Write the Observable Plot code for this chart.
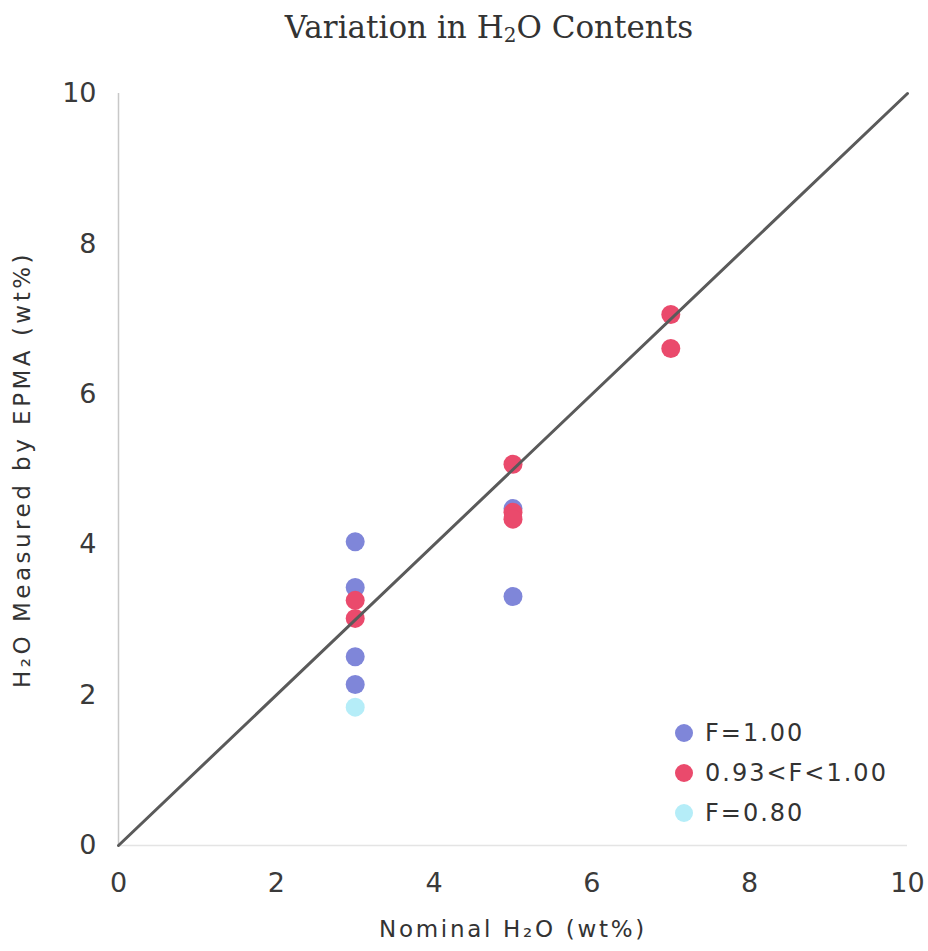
<!DOCTYPE html>
<html>
<head>
<meta charset="utf-8">
<script src="https://cdn.jsdelivr.net/npm/d3@7"></script>
<script src="https://cdn.jsdelivr.net/npm/@observablehq/plot@0.6"></script>
<style>
  html, body { margin: 0; padding: 0; background: #fff; }
  #wrap { position: relative; width: 928px; height: 951px; }
  #title {
    height: 58px; line-height: 54px; text-align: center;
    font-family: "DejaVu Serif", serif; font-size: 31px; color: #333;
    padding-left: 50px; box-sizing: border-box;
  }
  #title sub { font-size: 20px; vertical-align: -4px; line-height: 0; }
  #legend {
    position: absolute; left: 675px; top: 713px;
    font-family: "DejaVu Sans", sans-serif; font-size: 24px; color: #333;
    letter-spacing: 2px;
  }
  #legend .item { display: flex; align-items: center; height: 40px; }
  #legend .sw { width: 18px; height: 18px; border-radius: 50%; margin-right: 12px; }
</style>
</head>
<body>
<div id="wrap">
  <div id="title">Variation in H<sub>2</sub>O Contents</div>
  <div id="chart"></div>
  <div id="legend"></div>
</div>
<script>
// Sample groups (F value ranges) and their colours
const groups = ["F=1.00", "0.93<F<1.00", "F=0.80"];
const groupColors = ["#7f86d9", "#ea4a6c", "#b5edf8"];

// Nominal vs measured H2O (wt%) for each group
const nominalF100 = [3, 3, 3, 3, 5, 5];
const measuredF100 = [4.04, 3.43, 2.51, 2.14, 4.48, 3.31];

const nominalF093 = [3, 3, 5, 5, 5, 7, 7];
const measuredF093 = [3.26, 3.02, 5.07, 4.43, 4.34, 7.06, 6.61];

const nominalF080 = [3];
const measuredF080 = [1.84];

const axisTicks = [0, 2, 4, 6, 8, 10];
const oneToOne = [0, 10];

const xLabel = "Nominal H₂O (wt%)";
const yLabel = "H₂O Measured by EPMA (wt%)";

const rows = [];
const addGroup = (xs, ys, g) => xs.forEach((x, i) => rows.push({nominal: x, measured: ys[i], group: g}));
addGroup(nominalF100, measuredF100, groups[0]);
addGroup(nominalF093, measuredF093, groups[1]);
addGroup(nominalF080, measuredF080, groups[2]);

const chart = Plot.plot({
  width: 928,
  height: 893,
  marginTop: 35,
  marginBottom: 106,
  marginLeft: 118,
  marginRight: 21,
  style: {fontFamily: "DejaVu Sans, sans-serif", color: "#333", background: "#fff"},
  x: {domain: [0, 10], ticks: axisTicks},
  y: {domain: [0, 10], ticks: axisTicks},
  color: {domain: groups, range: groupColors},
  marks: [
    Plot.ruleX([0], {stroke: "#c8c8c8", strokeWidth: 1.5}),
    Plot.ruleY([0], {stroke: "#e4e4e4", strokeWidth: 1.5}),
    Plot.axisY(axisTicks, {
      tickSize: 0, tickPadding: 22, fontSize: 27, fill: "#3a3a3a",
      tickFormat: d3.format("d"), label: null
    }),
    Plot.axisX(axisTicks, {
      tickSize: 0, tickPadding: 27, fontSize: 27, fill: "#3a3a3a",
      tickFormat: d3.format("d"), label: null
    }),
    Plot.text([xLabel], {
      frameAnchor: "bottom", dy: 91, fontSize: 23, fill: "#333", textAnchor: "middle"
    }),
    Plot.text([yLabel], {
      frameAnchor: "left", dx: -96, rotate: -90, fontSize: 23, fill: "#333", textAnchor: "middle"
    }),
    Plot.dot(rows, {x: "nominal", y: "measured", fill: "group", r: 9.5}),
    Plot.line(oneToOne, {x: d => d, y: d => d, stroke: "#5a5a5a", strokeWidth: 3})
  ]
});

// Widen the spacing of the axis titles
d3.select(chart).selectAll("text")
  .filter(function() { return this.textContent === xLabel; })
  .attr("letter-spacing", 2.7);
d3.select(chart).selectAll("text")
  .filter(function() { return this.textContent === yLabel; })
  .attr("letter-spacing", 3.5);

document.getElementById("chart").appendChild(chart);

// Legend entries
const legend = d3.select("#legend");
groups.forEach((g, i) => {
  const item = legend.append("div").attr("class", "item");
  item.append("div").attr("class", "sw").style("background", groupColors[i]);
  item.append("span").text(g);
});
</script>
</body>
</html>
